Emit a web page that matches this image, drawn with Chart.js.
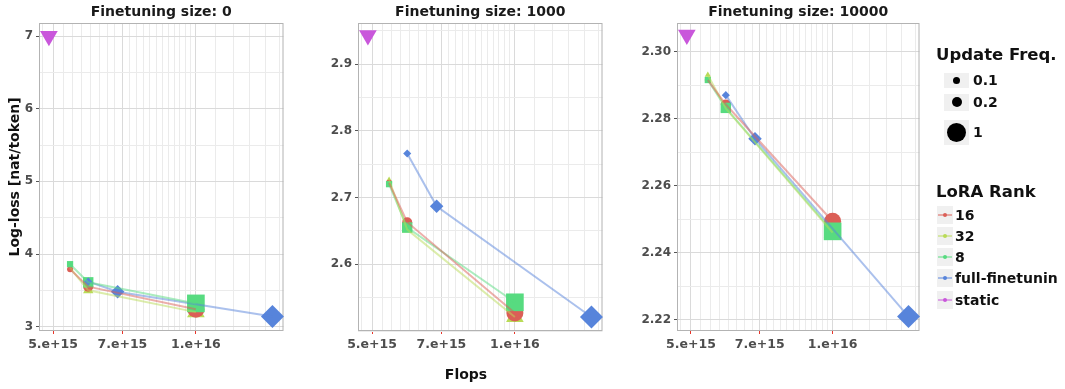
<!DOCTYPE html>
<html>
<head>
<meta charset="utf-8">
<script src="https://cdn.jsdelivr.net/npm/chart.js@4.4.1/dist/chart.umd.min.js"></script>
<style>
    body { margin: 0; width: 1065px; height: 389px; overflow: hidden; background: #fff; position: relative; font-family: "DejaVu Sans", sans-serif; }
    canvas { position: absolute; top: 0; }
    #panel0 { left: 0; }
    #panel1 { left: 320px; }
    #panel2 { left: 640px; }
    #xTitle { position: absolute; top: 366px; left: 436px; width: 60px; text-align: center; font-weight: bold; font-size: 14px; color: #111; }
    #legend { position: absolute; left: 0; top: 0; width: 1058px; height: 389px; overflow: hidden; }
    .lgTitle { position: absolute; left: 936px; font-weight: bold; font-size: 16.5px; color: #111; white-space: nowrap; }
    .lgRow { position: absolute; left: 937px; height: 26px; display: flex; align-items: center; white-space: nowrap; font-weight: bold; font-size: 14px; color: #111; }
    .lgKey { background: #f0f0f0; display: flex; align-items: center; justify-content: center; position: relative; }
    .lgDot { border-radius: 50%; background: #000; }
</style>
</head>
<body>
<canvas id="panel0" width="296" height="389"></canvas>
<canvas id="panel1" width="295" height="389"></canvas>
<canvas id="panel2" width="292" height="389"></canvas>
<div id="xTitle">Flops</div>
<div id="legend"></div>
<script>
// データ
const panelTitles = ['Finetuning size: 0', 'Finetuning size: 1000', 'Finetuning size: 10000'];
const rankNames = ['16', '32', '8', 'full-finetuning', 'static'];
const freqLabels = ['0.1', '0.2', '1'];

const loraFlops = [5.43e15, 5.93e15, 1.0e16];
const fullFlops = [5.93e15, 6.84e15, 1.45e16];
const staticFlops = [4.9e15];

const loss16 = [[3.79, 3.55, 3.24], [2.722, 2.663, 2.527], [2.2915, 2.2842, 2.2494]];
const loss32 = [[3.81, 3.50, 3.20], [2.726, 2.652, 2.521], [2.2930, 2.2830, 2.2460]];
const loss8 = [[3.86, 3.61, 3.32], [2.720, 2.655, 2.543], [2.2915, 2.2832, 2.2464]];
const lossFull = [[3.62, 3.48, 3.14], [2.766, 2.687, 2.521], [2.2870, 2.2740, 2.2210]];
const lossStatic = [[7.0], [2.943], [2.305]];

// 軸
const xTicks = [5e15, 7e15, 1e16];
const xTickLabels = ['5.e+15', '7.e+15', '1.e+16'];
const xRange = [4.67e15, 1.53e16];
const yTicks = [[3, 4, 5, 6, 7], [2.6, 2.7, 2.8, 2.9], [2.22, 2.24, 2.26, 2.28, 2.30]];
const yRanges = [[2.94, 7.18], [2.5, 2.9615], [2.2167, 2.3085]];
const yDecimals = [0, 1, 2];

// 見た目
const rankColors = ['#db5f57', '#b9db57', '#57db80', '#5784db', '#c957db'];
const rankShapes = ['circle', 'triangle', 'rect', 'rectRot', 'triangle'];
const rankOrder = [4, 5, 3, 2, 1]; // 小さいほど上に描画
const shapeScale = { circle: 1, triangle: 1.2, rect: 1.47, rectRot: 1.35 };
const freqRadius = [3, 5, 8.5];
const yAxisWidths = [39, 38, 37];

Chart.defaults.font.family = '"DejaVu Sans", sans-serif';

function withAlpha(hex, a) {
    const n = parseInt(hex.slice(1), 16);
    return `rgba(${(n >> 16) & 255}, ${(n >> 8) & 255}, ${n & 255}, ${a})`;
}

function isTick(v, list) {
    return list.some(t => Math.abs(v / t - 1) < 1e-9);
}

// x方向の補助グリッド
const xGrid = [];
for (let k = 19; k <= 40; k++) xGrid.push(k * 2.5e14);
for (let k = 11; k <= 15; k++) xGrid.push(k * 1e15);

function yGridFor(p) {
    const t = yTicks[p];
    const step = (t[1] - t[0]) / 2;
    const out = [];
    for (let k = -4; k <= t.length * 2 + 4; k++) {
        const v = t[0] + k * step;
        if (v >= yRanges[p][0] - 1e-9 && v <= yRanges[p][1] + 1e-9) out.push(v);
    }
    return out;
}

const framePlugin = {
    id: 'frame',
    beforeDatasetsDraw(chart) {
        const a = chart.chartArea;
        const ctx = chart.ctx;
        ctx.save();
        ctx.strokeStyle = '#b3b3b3';
        ctx.lineWidth = 1;
        ctx.strokeRect(a.left + 0.5, a.top + 0.5, a.right - a.left - 1, a.bottom - a.top - 1);
        ctx.restore();
    }
};

function buildPanel(p) {
    const series = [
        { x: loraFlops, y: loss16[p] },
        { x: loraFlops, y: loss32[p] },
        { x: loraFlops, y: loss8[p] },
        { x: fullFlops, y: lossFull[p] },
        { x: staticFlops, y: lossStatic[p] }
    ];
    const datasets = [];
    series.forEach((s, i) => {
        const pts = s.x.map((x, j) => ({ x: x, y: s.y[j] }));
        const shape = rankShapes[i];
        const radii = pts.map((pt, j) => (i === 4 ? freqRadius[2] : freqRadius[j]) * shapeScale[shape]);
        // マーカー
        datasets.push({
            label: rankNames[i],
            data: pts,
            showLine: false,
            pointStyle: shape,
            rotation: i === 4 ? 180 : 0,
            pointRadius: radii,
            pointHoverRadius: radii,
            backgroundColor: rankColors[i],
            borderColor: rankColors[i],
            pointBorderWidth: 0,
            clip: false,
            order: rankOrder[i]
        });
        // 線（マーカーの上に描画）
        if (pts.length > 1) {
            datasets.push({
                label: rankNames[i] + ' line',
                data: pts,
                showLine: true,
                pointRadius: 0,
                borderColor: withAlpha(rankColors[i], 0.5),
                borderWidth: 2,
                clip: false,
                order: 0
            });
        }
    });

    const yGrid = yGridFor(p);
    const ctx = document.getElementById('panel' + p).getContext('2d');
    return new Chart(ctx, {
        type: 'scatter',
        data: { datasets: datasets },
        plugins: [framePlugin],
        options: {
            responsive: false,
            animation: false,
            layout: { padding: { left: 0, right: 6, top: 0, bottom: 0 } },
            plugins: {
                legend: { display: false },
                tooltip: { enabled: false },
                title: {
                    display: true,
                    fullSize: false,
                    text: panelTitles[p],
                    color: '#1a1a1a',
                    font: { size: 14, weight: 'bold' },
                    padding: { top: 4, bottom: 2.2 }
                }
            },
            scales: {
                x: {
                    type: 'logarithmic',
                    min: xRange[0],
                    max: xRange[1],
                    afterBuildTicks: scale => { scale.ticks = xGrid.map(v => ({ value: v })); },
                    afterFit: scale => { scale.height = 58; },
                    border: { display: false },
                    grid: {
                        color: c => (c.tick && isTick(c.tick.value, xTicks)) ? '#dadada' : '#ebebeb',
                        tickColor: c => (c.tick && isTick(c.tick.value, xTicks)) ? '#e8352a' : 'rgba(0,0,0,0)',
                        tickLength: 3
                    },
                    ticks: {
                        autoSkip: false,
                        maxRotation: 0,
                        minRotation: 0,
                        padding: 3,
                        color: '#4d4d4d',
                        font: { size: 12.5, weight: 'bold' },
                        callback: v => {
                            const idx = xTicks.findIndex(t => Math.abs(v / t - 1) < 1e-9);
                            return idx >= 0 ? xTickLabels[idx] : '';
                        }
                    }
                },
                y: {
                    type: 'linear',
                    min: yRanges[p][0],
                    max: yRanges[p][1],
                    afterBuildTicks: scale => { scale.ticks = yGrid.map(v => ({ value: v })); },
                    afterFit: scale => { scale.width = yAxisWidths[p]; },
                    border: { display: false },
                    grid: {
                        color: c => (c.tick && isTick(c.tick.value, yTicks[p])) ? '#dadada' : '#ebebeb',
                        tickColor: c => (c.tick && isTick(c.tick.value, yTicks[p])) ? '#555' : 'rgba(0,0,0,0)',
                        tickLength: 3
                    },
                    ticks: {
                        autoSkip: false,
                        padding: 3,
                        color: '#4d4d4d',
                        font: { size: 12, weight: 'bold' },
                        callback: v => isTick(v, yTicks[p]) ? v.toFixed(yDecimals[p]) : ''
                    },
                    title: {
                        display: p === 0,
                        text: 'Log-loss [nat/token]',
                        color: '#111',
                        font: { size: 14, weight: 'bold' },
                        padding: { top: 7, bottom: 0 }
                    }
                }
            }
        }
    });
}

[0, 1, 2].forEach(buildPanel);

// 凡例
const legend = document.getElementById('legend');
function addEl(html) {
    const d = document.createElement('div');
    d.innerHTML = html;
    legend.appendChild(d.firstElementChild);
}
addEl('<div class="lgTitle" style="top:45px">Update Freq.</div>');
const freqRowY = [80, 102, 132];
const freqKeyH = [15, 17, 25];
const freqDot = [7, 10, 19];
freqLabels.forEach((lab, i) => {
    addEl(`<div class="lgRow" style="top:${freqRowY[i] - 13}px;left:944px">
        <div class="lgKey" style="width:25px;height:${freqKeyH[i]}px"><div class="lgDot" style="width:${freqDot[i]}px;height:${freqDot[i]}px"></div></div>
        <span style="margin-left:4px">${lab}</span></div>`);
});
addEl('<div class="lgTitle" style="top:182px">LoRA Rank</div>');
const rankRowY = [215, 236, 257, 278, 300];
rankNames.forEach((lab, i) => {
    addEl(`<div class="lgRow" style="top:${rankRowY[i] - 13}px">
        <div class="lgKey" style="width:16px;height:18px">
            <div style="position:absolute;left:1px;right:1px;top:8px;height:2px;background:${withAlpha(rankColors[i], 0.5)}"></div>
            <div class="lgDot" style="width:4px;height:4px;background:${rankColors[i]};position:relative"></div>
        </div>
        <span style="margin-left:2px">${lab}</span></div>`);
});
</script>
</body>
</html>
